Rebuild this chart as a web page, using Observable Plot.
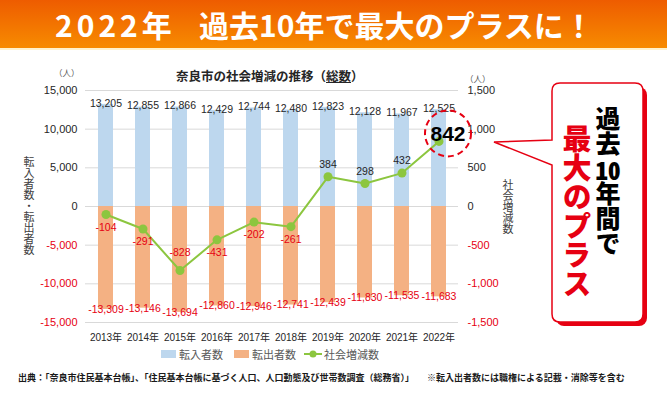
<!DOCTYPE html>
<html>
<head>
<meta charset="utf-8">
<script src="https://cdn.jsdelivr.net/npm/d3@7"></script>
<script src="https://cdn.jsdelivr.net/npm/@observablehq/plot@0.6"></script>
<style>
  html, body { margin:0; padding:0; background:#fff; }
  #wrap { position:relative; width:667px; height:393px; overflow:hidden; font-family:"Noto Sans CJK JP", sans-serif; }
  #banner { position:absolute; left:0; top:0; width:667px; height:50px; background:linear-gradient(#ee5c00, #f78b00); border-bottom:2px solid #fff2cc; box-sizing:border-box; }
  #banner span { position:absolute; top:4px; color:#fff; font-weight:bold; font-size:30px; line-height:40px; white-space:pre; }
  #chart { position:absolute; left:0; top:50px; }
  .abs { position:absolute; white-space:nowrap; }
  .vert { writing-mode:vertical-rl; text-orientation:upright; }
  .legend { position:absolute; top:346px; left:0; width:667px; font-size:11px; color:#595959; }
  .legend .item { position:absolute; top:0; display:flex; align-items:center; height:16px; }
  .sw { display:inline-block; width:15px; height:8px; margin-right:3px; }
</style>
</head>
<body>
<div id="wrap">
  <div id="banner"><span style="left:55px; letter-spacing:4px;">2022年</span><span style="left:199px;">過去10年で最大のプラスに！</span></div>
  <div id="chart"></div>
  <div class="abs" style="left:176px; top:66px; font-size:12.5px; font-weight:bold; color:#262626;">奈良市の社会増減の推移（<span style="text-decoration:underline;">総数</span>）</div>
  <div class="abs" style="left:54px; top:66px; font-size:8.5px; color:#595959;">（人）</div>
  <div class="abs" style="left:465px; top:72px; font-size:8.5px; color:#595959;">（人）</div>
  <div class="abs vert" style="left:23px; top:156px; font-size:11px; line-height:12px; color:#404040;">転入者数・転出者数</div>
  <div class="abs vert" style="left:502px; top:179px; font-size:11px; line-height:12px; color:#404040;">社会増減数</div>
  <div class="legend">
    <div class="item" style="left:161px;"><span class="sw" style="background:#bdd7ee"></span>転入者数</div>
    <div class="item" style="left:234px;"><span class="sw" style="background:#f4b183"></span>転出者数</div>
    <div class="item" style="left:304px;"><svg width="18" height="10" style="margin-right:2px"><line x1="0" y1="5" x2="18" y2="5" stroke="#8cc63f" stroke-width="2"/><circle cx="9" cy="5" r="3.5" fill="#8cc63f"/></svg>社会増減数</div>
  </div>
  <div class="abs" style="left:18px; top:371px; font-size:9px; font-weight:bold; color:#1a1a1a;">出典：「奈良市住民基本台帳」、「住民基本台帳に基づく人口、人口動態及び世帯数調査（総務省）」<span style="display:inline-block;width:13px"></span>※転入出者数には職権による記載・消除等を含む</div>
  <svg class="abs" style="left:0; top:0;" width="667" height="393">
    <rect x="556" y="87" width="91" height="239" rx="8" fill="#e60012"/>
    <path d="M 560 83 H 635 Q 643 83 643 91 V 314 Q 643 322 635 322 H 560 Q 552 322 552 314 V 165 L 494 142 L 552 140 V 91 Q 552 83 560 83 Z" fill="#fff" stroke="#e60012" stroke-width="1.5"/>
  </svg>
  <div class="abs vert" style="left:594px; top:106px; font-size:25px; line-height:28px; font-weight:900; color:#000;">過去<span style="text-combine-upright:all;">10</span>年間で</div>
  <div class="abs vert" style="left:561px; top:124px; font-size:29px; line-height:32px; font-weight:900; color:#e60012;">最大のプラス</div>
</div>
<script>
const years = ["2013年","2014年","2015年","2016年","2017年","2018年","2019年","2020年","2021年","2022年"];
const inflow  = [13205, 12855, 12866, 12429, 12744, 12480, 12823, 12128, 11967, 12525];
const outflow = [-13309, -13146, -13694, -12860, -12946, -12741, -12439, -11830, -11535, -11683];
const net     = [-104, -291, -828, -431, -202, -261, 384, 298, 432, 842];
const leftTicks  = [-15000, -10000, -5000, 0, 5000, 10000, 15000];
const rightTicks = [-1500, -1000, -500, 0, 500, 1000, 1500];

const RATIO = leftTicks[leftTicks.length-1] / rightTicks[rightTicks.length-1];
const rows = years.map((y, i) => ({year: y, inflow: inflow[i], outflow: outflow[i], net: net[i], netL: net[i] * RATIO, i}));
const fmt = d3.formatLocale({decimal: ".", thousands: ",", grouping: [3], currency: ["", ""], minus: "-"}).format(",");
const RED = "#e60012";
const FONT = "'Liberation Sans', 'Noto Sans CJK JP', sans-serif";
const last = rows.length - 1;
const below = new Set([0, 1, 3, 4, 5]);
const LBL = 10.5;

const chart = Plot.plot({
  width: 667,
  height: 300,
  marginTop: 40,
  marginBottom: 28,
  marginLeft: 85,
  marginRight: 209,
  style: {fontFamily: FONT, fontSize: "11px", background: "transparent"},
  x: {type: "band", domain: years, paddingInner: 0.6, paddingOuter: 0.3},
  y: {domain: [leftTicks[0], leftTicks[leftTicks.length-1]]},
  marks: [
    Plot.gridY({ticks: leftTicks, stroke: "#d9d9d9", strokeOpacity: 1}),
    Plot.barY(rows, {x: "year", y: "inflow", fill: "#bdd7ee"}),
    Plot.barY(rows, {x: "year", y: "outflow", fill: "#f4b183"}),
    Plot.axisY({ticks: leftTicks.filter(d => d >= 0), tickFormat: fmt, tickSize: 0, tickPadding: 8, label: null, color: "#262626", fontSize: 11}),
    Plot.axisY({ticks: leftTicks.filter(d => d < 0), tickFormat: fmt, tickSize: 0, tickPadding: 8, label: null, color: RED, fontSize: 11}),
    Plot.axisY({anchor: "right", ticks: rightTicks.filter(d => d >= 0).map(d => d * RATIO), tickFormat: d => fmt(d / RATIO), tickSize: 0, tickPadding: 9, label: null, color: "#262626", fontSize: 11}),
    Plot.axisY({anchor: "right", ticks: rightTicks.filter(d => d < 0).map(d => d * RATIO), tickFormat: d => fmt(d / RATIO), tickSize: 0, tickPadding: 9, label: null, color: RED, fontSize: 11}),
    Plot.axisX({tickSize: 0, tickPadding: 11, label: null, color: "#262626", fontSize: 10}),
    Plot.line(rows, {x: "year", y: "netL", stroke: "#8cc63f", strokeWidth: 2}),
    Plot.dot(rows, {x: "year", y: "netL", r: 4.5, fill: "#8cc63f"}),
    Plot.text(rows, {x: "year", y: "inflow", text: d => fmt(d.inflow), dy: -1, fill: "#262626", fontSize: LBL}),
    Plot.text(rows, {x: "year", y: "outflow", text: d => fmt(d.outflow), dy: 0, fill: RED, fontSize: LBL}),
    Plot.text(rows.filter(d => below.has(d.i)), {x: "year", y: "netL", text: d => fmt(d.net), dy: 13, fill: RED, fontSize: LBL}),
    Plot.text(rows.filter(d => d.i === 2), {x: "year", y: "netL", text: d => fmt(d.net), dy: -18, fill: RED, fontSize: LBL}),
    Plot.text(rows.filter(d => d.net > 0 && d.i !== last), {x: "year", y: "netL", text: d => fmt(d.net), dy: -12, fill: "#262626", fontSize: LBL}),
    Plot.dot(rows.filter(d => d.i === last), {x: "year", y: "netL", r: 23, fill: "none", stroke: RED, strokeWidth: 2, strokeDasharray: "6,4", dx: 9, dy: -8}),
    Plot.text(rows.filter(d => d.i === last), {x: "year", y: "netL", text: d => fmt(d.net), dx: 9, dy: -7, fill: "#000", fontSize: 21, fontWeight: "bold"})
  ]
});
document.getElementById("chart").appendChild(chart);
</script>
</body>
</html>
